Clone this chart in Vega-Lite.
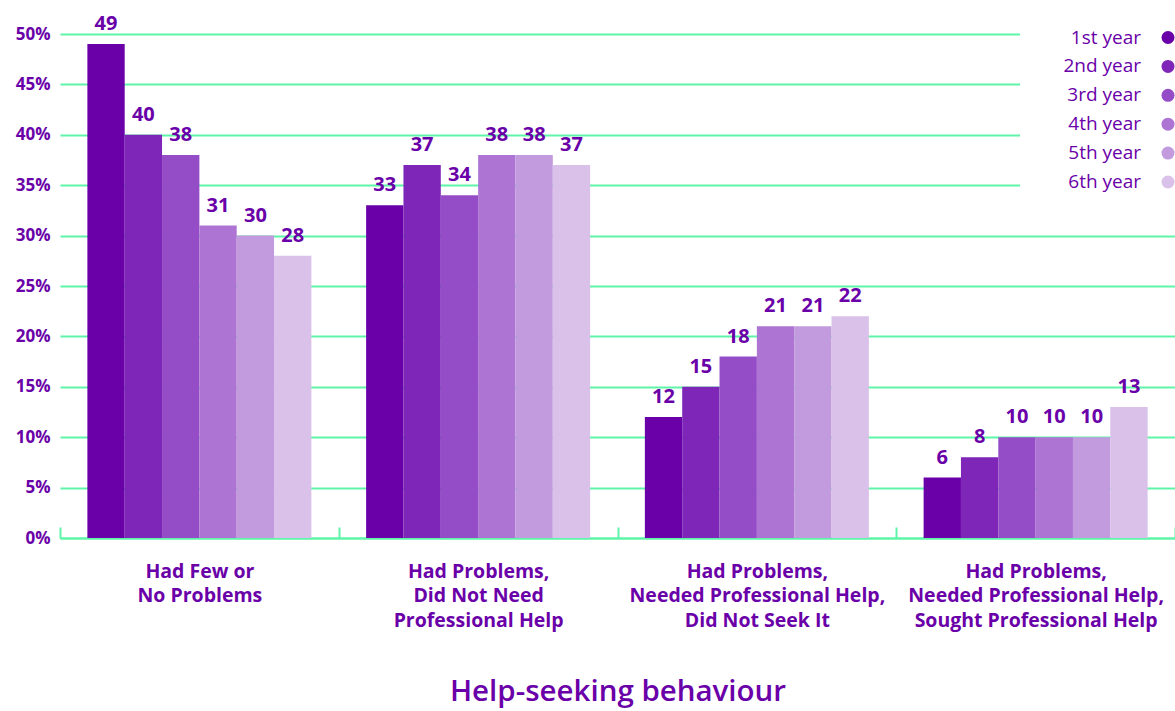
{
  "$schema": "https://vega.github.io/schema/vega-lite/v6.json",
  "width": 1115,
  "height": 504,
  "autosize": {"type": "none"},
  "padding": {"left": 60, "top": 34, "right": 0, "bottom": 173},
  "config": {"font": "Open Sans", "view": {"stroke": null}},
  "data": {
    "values": [
      {"behaviour": "Had Few or|No Problems", "year": "1st year", "pct": 49},
      {"behaviour": "Had Few or|No Problems", "year": "2nd year", "pct": 40},
      {"behaviour": "Had Few or|No Problems", "year": "3rd year", "pct": 38},
      {"behaviour": "Had Few or|No Problems", "year": "4th year", "pct": 31},
      {"behaviour": "Had Few or|No Problems", "year": "5th year", "pct": 30},
      {"behaviour": "Had Few or|No Problems", "year": "6th year", "pct": 28},
      {"behaviour": "Had Problems,|Did Not Need|Professional Help", "year": "1st year", "pct": 33},
      {"behaviour": "Had Problems,|Did Not Need|Professional Help", "year": "2nd year", "pct": 37},
      {"behaviour": "Had Problems,|Did Not Need|Professional Help", "year": "3rd year", "pct": 34},
      {"behaviour": "Had Problems,|Did Not Need|Professional Help", "year": "4th year", "pct": 38},
      {"behaviour": "Had Problems,|Did Not Need|Professional Help", "year": "5th year", "pct": 38},
      {"behaviour": "Had Problems,|Did Not Need|Professional Help", "year": "6th year", "pct": 37},
      {"behaviour": "Had Problems,|Needed Professional Help,|Did Not Seek It", "year": "1st year", "pct": 12},
      {"behaviour": "Had Problems,|Needed Professional Help,|Did Not Seek It", "year": "2nd year", "pct": 15},
      {"behaviour": "Had Problems,|Needed Professional Help,|Did Not Seek It", "year": "3rd year", "pct": 18},
      {"behaviour": "Had Problems,|Needed Professional Help,|Did Not Seek It", "year": "4th year", "pct": 21},
      {"behaviour": "Had Problems,|Needed Professional Help,|Did Not Seek It", "year": "5th year", "pct": 21},
      {"behaviour": "Had Problems,|Needed Professional Help,|Did Not Seek It", "year": "6th year", "pct": 22},
      {"behaviour": "Had Problems,|Needed Professional Help,|Sought Professional Help", "year": "1st year", "pct": 6},
      {"behaviour": "Had Problems,|Needed Professional Help,|Sought Professional Help", "year": "2nd year", "pct": 8},
      {"behaviour": "Had Problems,|Needed Professional Help,|Sought Professional Help", "year": "3rd year", "pct": 10},
      {"behaviour": "Had Problems,|Needed Professional Help,|Sought Professional Help", "year": "4th year", "pct": 10},
      {"behaviour": "Had Problems,|Needed Professional Help,|Sought Professional Help", "year": "5th year", "pct": 10},
      {"behaviour": "Had Problems,|Needed Professional Help,|Sought Professional Help", "year": "6th year", "pct": 13}
    ]
  },
  "encoding": {
    "x": {
      "field": "behaviour",
      "type": "nominal",
      "sort": null,
      "scale": {"paddingInner": 0, "paddingOuter": 0},
      "axis": {
        "title": "Help-seeking behaviour",
        "labelAngle": 0,
        "labelExpr": "split(datum.label, '|')",
        "labelFontSize": 19.5,
        "labelFontWeight": "bold",
        "labelColor": "#6a00a8",
        "labelLineHeight": 24.5,
        "labelBaseline": "top",
        "labelPadding": 35,
        "labelLimit": 400,
        "tickBand": "extent",
        "tickColor": "#5ef5a8",
        "tickWidth": 2,
        "tickSize": -11,
        "domainColor": "#5ef5a8",
        "domainWidth": 2,
        "titleFontSize": 29.5,
        "titleFontWeight": 600,
        "titleColor": "#6a00a8",
        "titlePadding": 48
      }
    },
    "xOffset": {
      "field": "year",
      "type": "nominal",
      "sort": null,
      "scale": {"paddingInner": 0, "paddingOuter": 0.733}
    },
    "y": {
      "field": "pct",
      "type": "quantitative",
      "scale": {"domain": [0, 50]},
      "axis": {
        "title": null,
        "values": [0, 5, 10, 15, 20, 25, 30, 35, 40, 45, 50],
        "labelExpr": "datum.value + '%'",
        "labelFontSize": 17,
        "labelFontWeight": "bold",
        "labelColor": "#6a00a8",
        "labelPadding": 10,
        "ticks": false,
        "domain": false,
        "grid": true,
        "gridColor": "#5ef5a8",
        "gridWidth": 2
      }
    }
  },
  "layer": [
    {
      "mark": {"type": "bar"},
      "encoding": {
        "color": {
          "field": "year",
          "type": "nominal",
          "sort": null,
          "scale": {
            "domain": ["1st year", "2nd year", "3rd year", "4th year", "5th year", "6th year"],
            "range": ["#6a00a8", "#7e26b8", "#944cc7", "#ad74d4", "#c29ade", "#dac1ea"]
          },
          "legend": {
            "orient": "none",
            "legendX": 960,
            "legendY": -16,
            "title": null,
            "symbolType": "circle",
            "symbolSize": 169,
            "symbolStrokeWidth": 0,
            "symbolOffset": 128.5,
            "labelFontSize": 19,
            "labelColor": "#6a00a8",
            "labelAlign": "right",
            "labelOffset": -36.5,
            "rowPadding": 8.9,
            "padding": 10,
            "fillColor": "white"
          }
        }
      }
    },
    {
      "mark": {"type": "text", "baseline": "alphabetic", "dy": -14, "fontSize": 20, "fontWeight": "bold", "color": "#6a00a8"},
      "encoding": {"text": {"field": "pct", "type": "quantitative"}}
    }
  ]
}
